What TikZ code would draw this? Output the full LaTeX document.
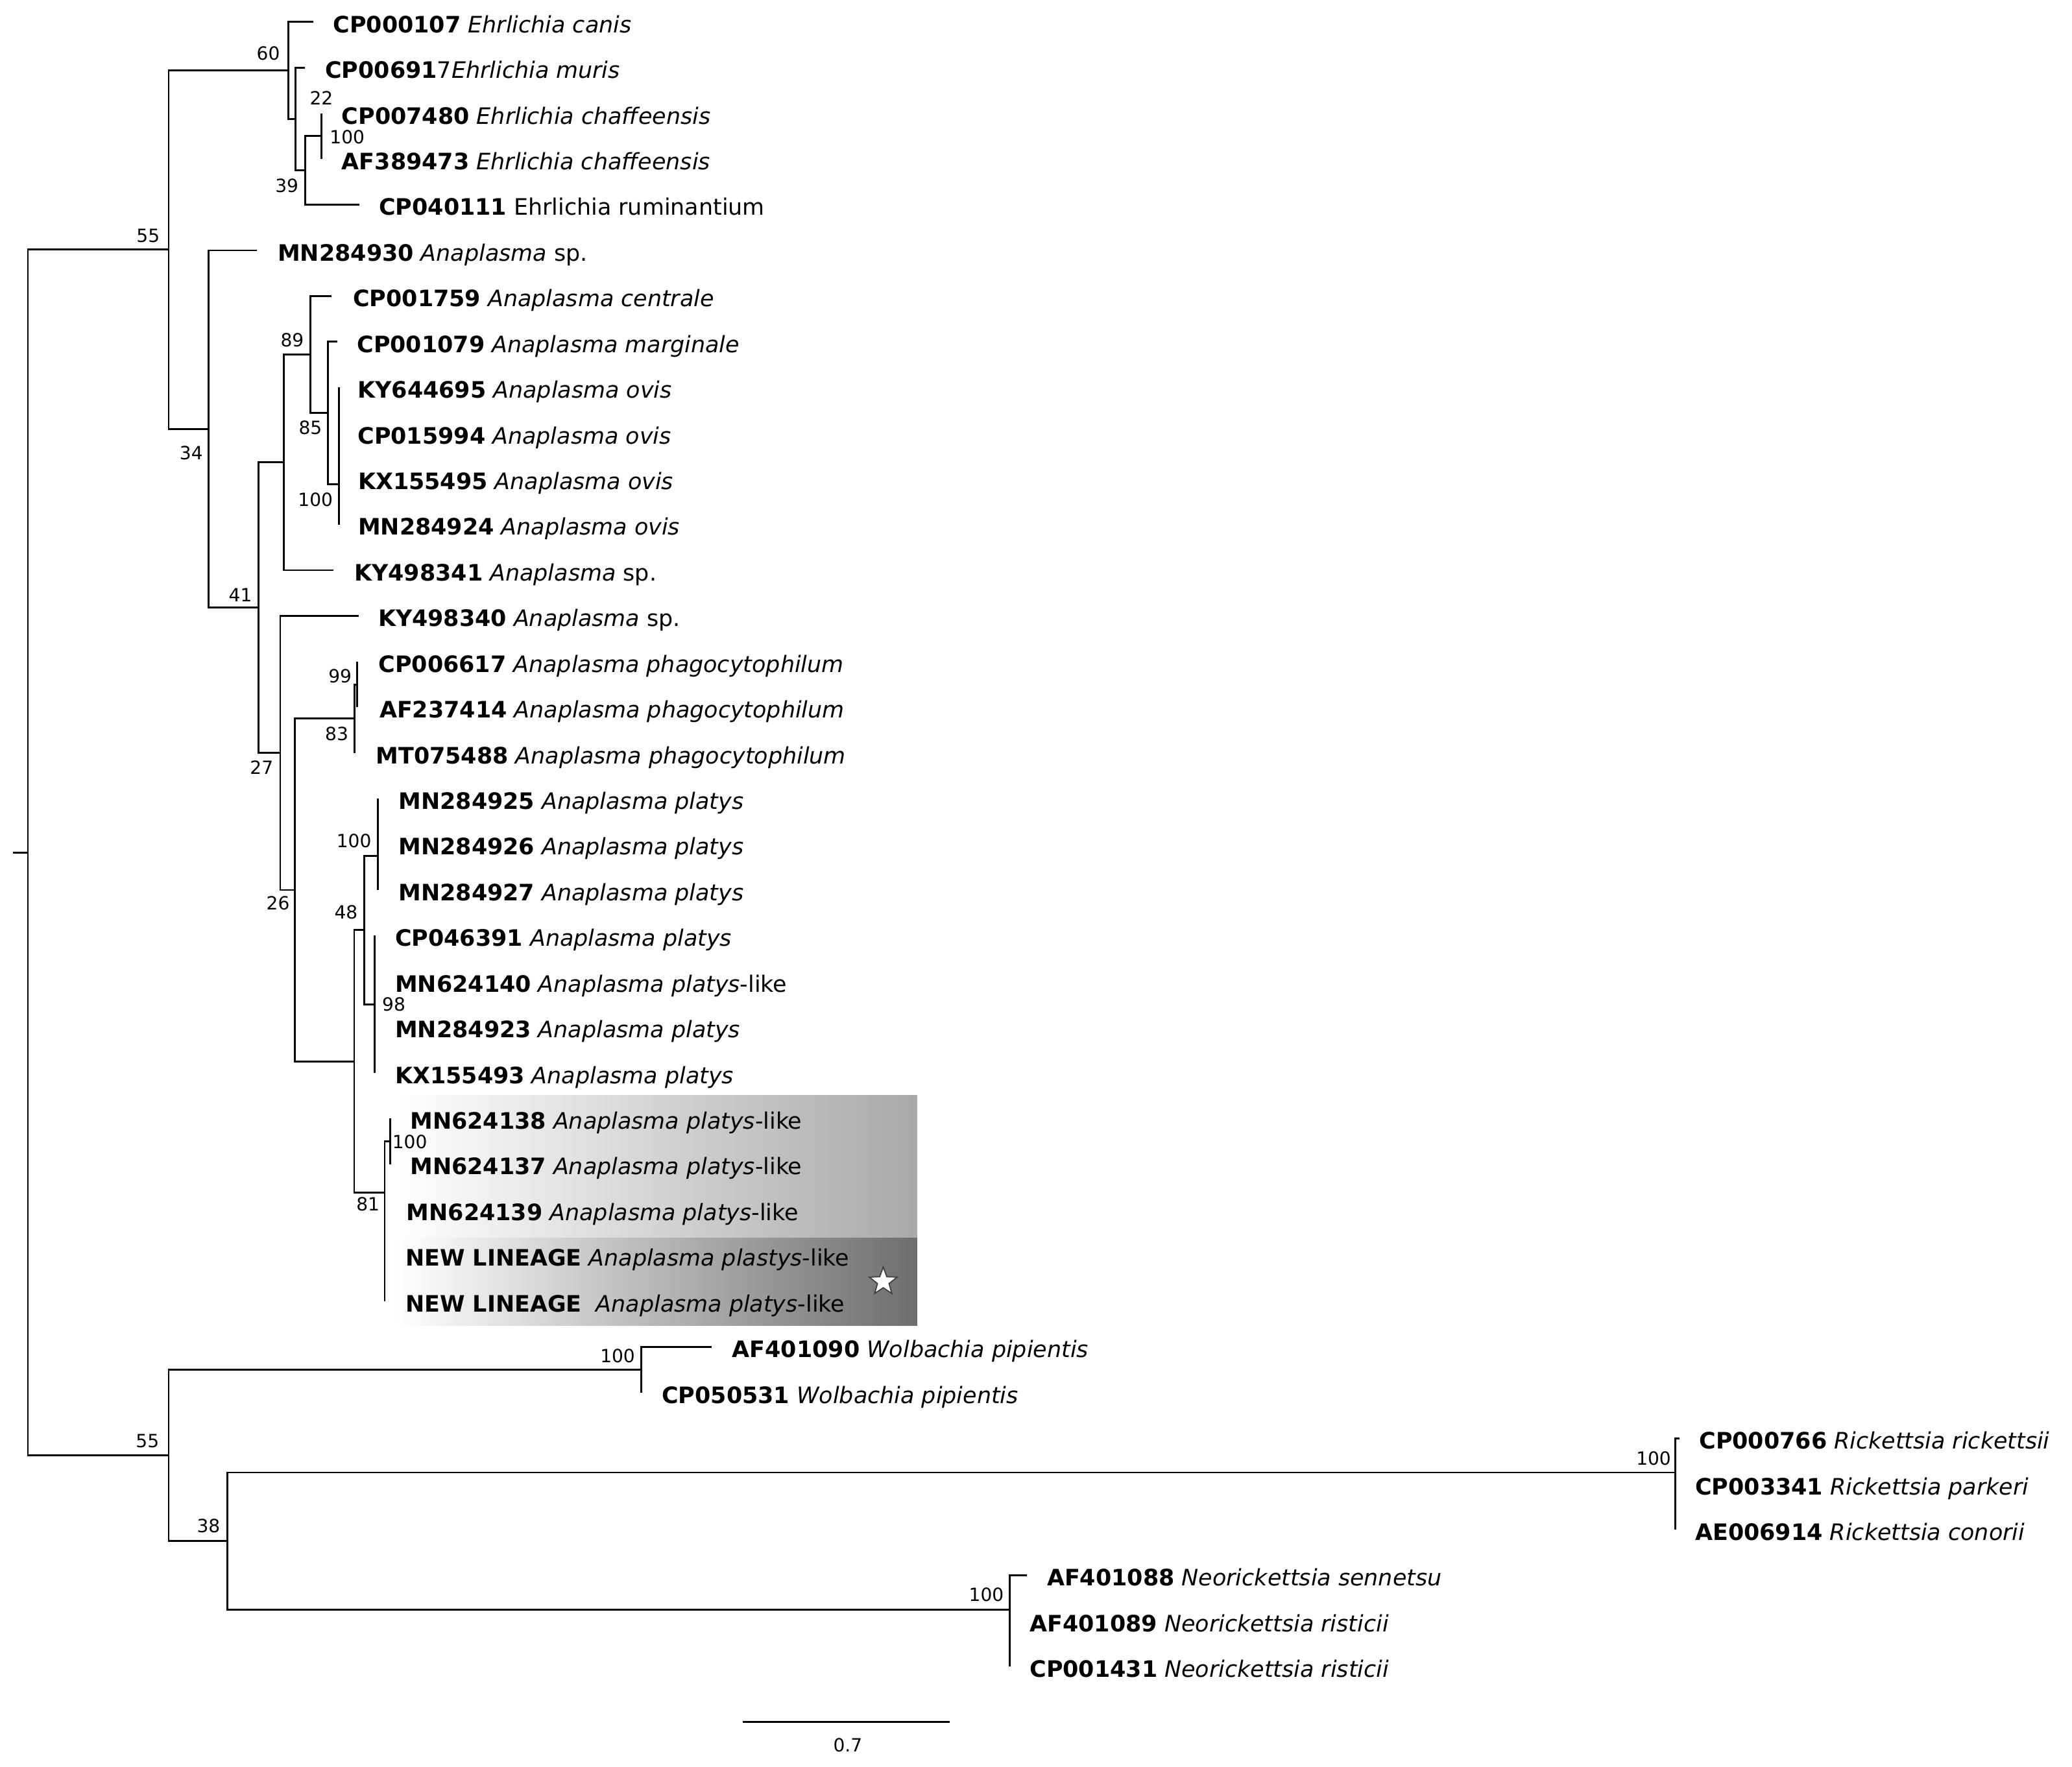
\documentclass[tikz,border=0pt]{standalone}
\usepackage{fontspec}
\setmainfont{DejaVu Sans}
\usetikzlibrary{shapes.geometric}
\tikzset{
  branch/.style={line width=0.8pt},
  leaf/.style={anchor=base west, inner sep=0pt, font=\fontsize{9.7}{11}\selectfont},
  boot/.style={inner sep=0pt, font=\fontsize{7.8}{9}\selectfont},
}

\begin{document}
\begin{tikzpicture}[x=0.02cm, y=-0.02cm]
\useasboundingbox (0,0) rectangle (1560,1330);
% shaded clade
\shade[left color=white, right color=black!34] (298,824.6) rectangle (690.6,932);
\shade[left color=white, right color=black!57] (298,932) rectangle (690.6,998);
\node[star, star points=5, star point ratio=2.4, draw=black!75, fill=white, line width=0.5pt, minimum size=0.44cm, inner sep=0pt] (mark) at (665,965) {};

% internal nodes
\coordinate (stub) at (10,641.9);
\coordinate (root) at (21,641.9);
\coordinate (na) at (127,188);
\coordinate (ne) at (217,53.05);
\coordinate (nf) at (222.3,89.6);
\coordinate (ng) at (230,128.3);
\coordinate (nh) at (242,102.5);
\coordinate (nb) at (157,323);
\coordinate (nc) at (194.6,457.5);
\coordinate (nd) at (213.6,348.1);
\coordinate (ni) at (233.7,267);
\coordinate (nj) at (247,311.05);
\coordinate (nk) at (255,364.8);
\coordinate (nl) at (211,566.9);
\coordinate (nm) at (222,670.1);
\coordinate (nn) at (267,541.1);
\coordinate (no) at (269,515.3);
\coordinate (np) at (266.7,799.1);
\coordinate (nq) at (274.3,700.2);
\coordinate (nr) at (284.4,644.3);
\coordinate (ns) at (282,756.1);
\coordinate (nt) at (289.6,898);
\coordinate (nu) at (293.8,859.3);
\coordinate (nv) at (127,1095.8);
\coordinate (nw) at (483,1031.3);
\coordinate (nx) at (171,1160.3);
\coordinate (ny) at (1261.5,1108.7);
\coordinate (nz) at (760.3,1211.9);

% tips
\foreach \n/\x/\y in {1/236/16.5, 2/229.6/50.9, 3/242/85.3, 4/242/119.7, 5/270.5/154.1,
  6/193.5/188.5, 7/249.8/222.9, 8/254/257.3, 9/255/291.7, 10/255/326.1, 11/255/360.5,
  12/255/394.9, 13/251/429.3, 14/270/463.7, 15/269/498.1, 16/269/532.5, 17/267/566.9,
  18/284.4/601.3, 19/284.4/635.7, 20/284.4/670.1, 21/282/704.5, 22/282/738.9,
  23/282/773.3, 24/282/807.7, 25/293.8/842.1, 26/293.8/876.5, 27/289.6/910.9,
  28/289.6/945.3, 29/289.6/979.7, 30/536/1014.1, 31/483/1048.5, 32/1264.5/1082.9,
  33/1261.5/1117.3, 34/1261.5/1151.7, 35/773/1186.1, 36/760.3/1220.5, 37/760.3/1254.9}
  \coordinate (t\n) at (\x,\y);

% branches
\draw[branch] (stub) -- (root);
\foreach \p/\c in {root/na, root/nv, na/ne, na/nb, ne/t1, ne/nf, nf/t2, nf/ng,
  ng/nh, ng/t5, nh/t3, nh/t4, nb/t6, nb/nc, nc/nd, nc/nl, nd/ni, nd/t13,
  ni/t7, ni/nj, nj/t8, nj/nk, nk/t9, nk/t10, nk/t11, nk/t12, nl/t14, nl/nm,
  nm/nn, nm/np, nn/no, nn/t17, no/t15, no/t16, np/nq, np/nt, nq/nr, nq/ns,
  nr/t18, nr/t19, nr/t20, ns/t21, ns/t22, ns/t23, ns/t24, nt/nu, nt/t27,
  nt/t28, nt/t29, nu/t25, nu/t26, nv/nw, nv/nx, nw/t30, nw/t31, nx/ny, nx/nz,
  ny/t32, ny/t33, ny/t34, nz/t35, nz/t36, nz/t37}
  \draw[branch] (\p) |- (\c);

% leaf labels
\node[leaf] (l1)  at (250.5,24.5)  {\textbf{CP000107} \textit{Ehrlichia canis}};
\node[leaf] (l2)  at (244.5,58.9)  {\textbf{CP00691}7\textit{Ehrlichia muris}};
\node[leaf] (l3)  at (257,93.3)    {\textbf{CP007480} \textit{Ehrlichia chaffeensis}};
\node[leaf] (l4)  at (257,127.7)   {\textbf{AF389473} \textit{Ehrlichia chaffeensis}};
\node[leaf] (l5)  at (285,162.1)   {\textbf{CP040111} Ehrlichia ruminantium};
\node[leaf] (l6)  at (208.8,196.5) {\textbf{MN284930} \textit{Anaplasma} sp.};
\node[leaf] (l7)  at (265.5,230.9) {\textbf{CP001759} \textit{Anaplasma centrale}};
\node[leaf] (l8)  at (268.5,265.3) {\textbf{CP001079} \textit{Anaplasma marginale}};
\node[leaf] (l9)  at (269,299.7)   {\textbf{KY644695} \textit{Anaplasma ovis}};
\node[leaf] (l10) at (269,334.1)   {\textbf{CP015994} \textit{Anaplasma ovis}};
\node[leaf] (l11) at (269.3,368.5) {\textbf{KX155495} \textit{Anaplasma ovis}};
\node[leaf] (l12) at (269.3,402.9) {\textbf{MN284924} \textit{Anaplasma ovis}};
\node[leaf] (l13) at (266.5,437.3) {\textbf{KY498341} \textit{Anaplasma} sp.};
\node[leaf] (l14) at (284.4,471.7) {\textbf{KY498340} \textit{Anaplasma} sp.};
\node[leaf] (l15) at (284.7,506.1) {\textbf{CP006617} \textit{Anaplasma phagocytophilum}};
\node[leaf] (l16) at (285.4,540.5) {\textbf{AF237414} \textit{Anaplasma phagocytophilum}};
\node[leaf] (l17) at (282.7,574.9) {\textbf{MT075488} \textit{Anaplasma phagocytophilum}};
\node[leaf] (l18) at (299.8,609.3) {\textbf{MN284925} \textit{Anaplasma platys}};
\node[leaf] (l19) at (299.8,643.7) {\textbf{MN284926} \textit{Anaplasma platys}};
\node[leaf] (l20) at (299.8,678.1) {\textbf{MN284927} \textit{Anaplasma platys}};
\node[leaf] (l21) at (297.2,712.5) {\textbf{CP046391} \textit{Anaplasma platys}};
\node[leaf] (l22) at (297.2,746.9) {\textbf{MN624140} \textit{Anaplasma platys}-like};
\node[leaf] (l23) at (297.2,781.3) {\textbf{MN284923} \textit{Anaplasma platys}};
\node[leaf] (l24) at (297.2,815.7) {\textbf{KX155493} \textit{Anaplasma platys}};
\node[leaf] (l25) at (308.5,850.1) {\textbf{MN624138} \textit{Anaplasma platys}-like};
\node[leaf] (l26) at (308.5,884.5) {\textbf{MN624137} \textit{Anaplasma platys}-like};
\node[leaf] (l27) at (305.8,918.9) {\textbf{MN624139} \textit{Anaplasma platys}-like};
\node[leaf] (l28) at (305,953.3)   {\textbf{NEW LINEAGE} \textit{Anaplasma plastys}-like};
\node[leaf] (l29) at (305,987.7)   {\textbf{NEW LINEAGE}\ \ \textit{Anaplasma platys}-like};
\node[leaf] (l30) at (551,1022.1)  {\textbf{AF401090} \textit{Wolbachia pipientis}};
\node[leaf] (l31) at (498,1056.5)  {\textbf{CP050531} \textit{Wolbachia pipientis}};
\node[leaf] (l32) at (1279,1090.9) {\textbf{CP000766} \textit{Rickettsia rickettsii}};
\node[leaf] (l33) at (1276,1125.3) {\textbf{CP003341} \textit{Rickettsia parkeri}};
\node[leaf] (l34) at (1276,1159.7) {\textbf{AE006914} \textit{Rickettsia conorii}};
\node[leaf] (l35) at (788,1194.1)  {\textbf{AF401088} \textit{Neorickettsia sennetsu}};
\node[leaf] (l36) at (775,1228.5)  {\textbf{AF401089} \textit{Neorickettsia risticii}};
\node[leaf] (l37) at (775,1262.9)  {\textbf{CP001431} \textit{Neorickettsia risticii}};

% bootstrap values
\node[boot] (b1)  at (202,40)      {60};
\node[boot] (b2)  at (242,74)      {22};
\node[boot] (b3)  at (261.4,103.4) {100};
\node[boot] (b4)  at (216,140)     {39};
\node[boot] (b5)  at (111.5,177.5) {55};
\node[boot] (b6)  at (220,256)     {89};
\node[boot] (b7)  at (233.7,322)   {85};
\node[boot] (b8)  at (144,341)     {34};
\node[boot] (b9)  at (237.5,376)   {100};
\node[boot] (b10) at (181,448)     {41};
\node[boot] (b11) at (256,509)     {99};
\node[boot] (b12) at (253.5,552.5) {83};
\node[boot] (b13) at (197,577.6)   {27};
\node[boot] (b14) at (266.5,633)   {100};
\node[boot] (b15) at (209.3,680)   {26};
\node[boot] (b16) at (260.5,687)   {48};
\node[boot] (b17) at (296.5,756)   {98};
\node[boot] (b18) at (308.5,859.6) {100};
\node[boot] (b19) at (277,906.5)   {81};
\node[boot] (b20) at (111,1085)    {55};
\node[boot] (b21) at (465,1021)    {100};
\node[boot] (b22) at (157,1149)    {38};
\node[boot] (b23) at (1245,1098)   {100};
\node[boot] (b24) at (742.6,1200.8) {100};

% scale bar
\coordinate (s1) at (559,1296.5);
\coordinate (s2) at (715.2,1296.5);
\draw[branch] (s1) -- (s2);
\node[boot] (sl) at (638.3,1314) {0.7};
\end{tikzpicture}
\end{document}
